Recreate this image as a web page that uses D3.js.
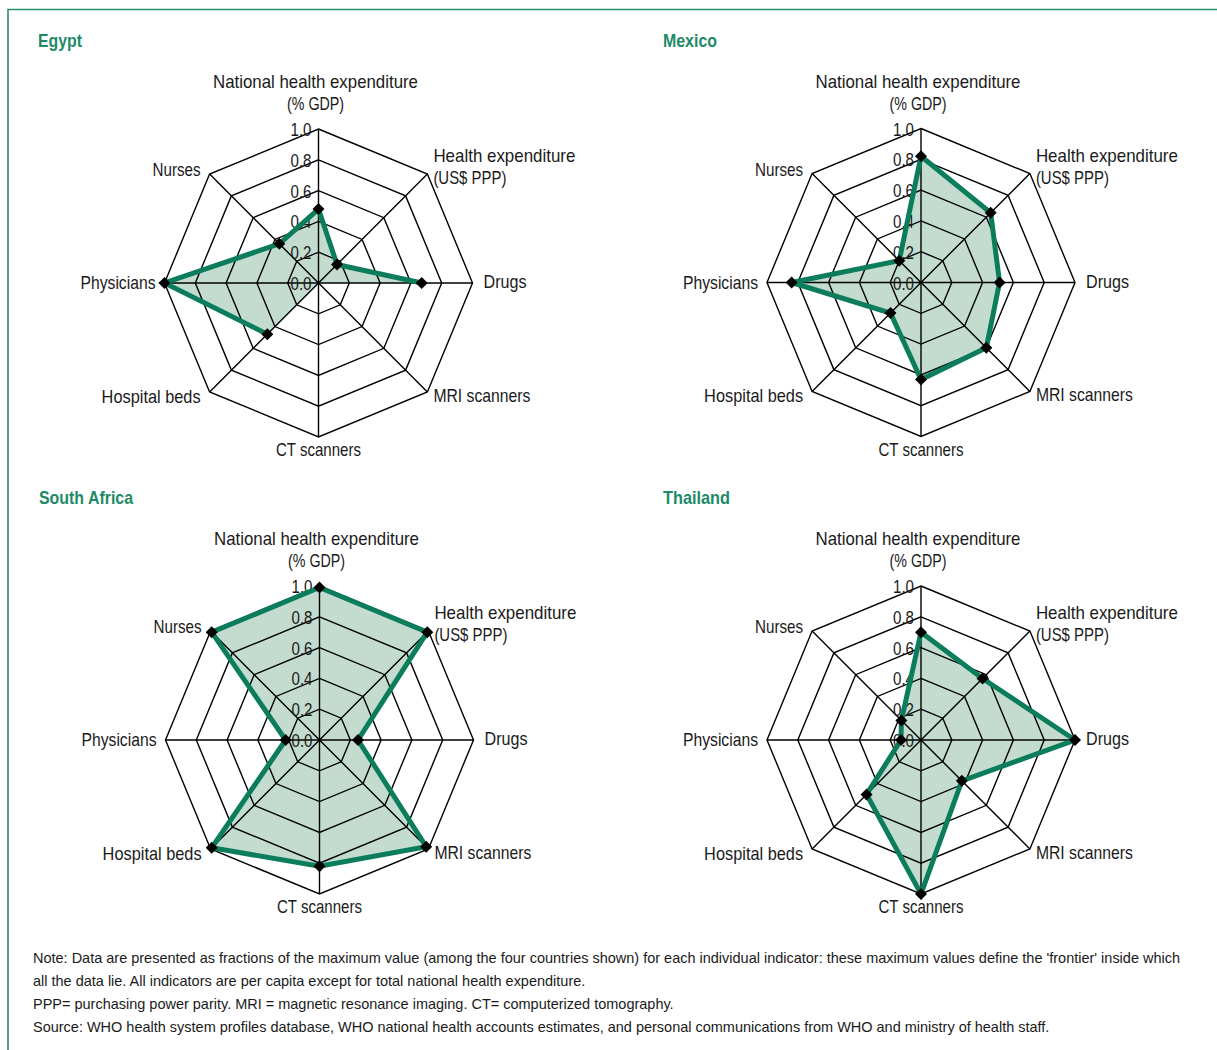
<!DOCTYPE html>
<html><head><meta charset="utf-8">
<script src="https://cdn.jsdelivr.net/npm/d3@7"></script>
<style>
html,body{margin:0;padding:0;background:#fff;}
svg{display:block;}
text{font-family:"Liberation Sans",Arial,sans-serif;fill:#1a1a1a;}
</style></head>
<body>
<svg id="chart" width="1217" height="1050"></svg>
<script>
// ---- data ----
const axisLabels = [
  ["National health expenditure", "(% GDP)"],
  ["Health expenditure", "(US$ PPP)"],
  ["Drugs"],
  ["MRI scanners"],
  ["CT scanners"],
  ["Hospital beds"],
  ["Physicians"],
  ["Nurses"]
];
const countries = ["Egypt", "Mexico", "South Africa", "Thailand"];
const egypt       = [0.48, 0.17, 0.67, null, null, 0.47, 1.00, 0.36];
const mexico      = [0.82, 0.64, 0.51, 0.60, 0.63, 0.28, 0.84, 0.20];
const southAfrica = [0.99, 0.99, 0.25, 0.98, 0.82, 0.99, 0.22, 0.99];
const thailand    = [0.70, 0.565, 1.00, 0.375, 1.00, 0.50, 0.13, 0.18];
const tickValues  = [0.0, 0.2, 0.4, 0.6, 0.8, 1.0];
const tickLabels  = ["0.0", "0.2", "0.4", "0.6", "0.8", "1.0"];
const noteLines = [
  "Note: Data are presented as fractions of the maximum value (among the four countries shown) for each individual indicator: these maximum values define the 'frontier' inside which",
  "all the data lie.  All indicators are per capita except for total national health expenditure.",
  "PPP= purchasing power parity. MRI = magnetic resonance imaging. CT= computerized tomography.",
  "Source:  WHO health system profiles database, WHO national health accounts estimates,  and personal communications from WHO and ministry of health staff."
];
const seriesList = [egypt, mexico, southAfrica, thailand];

// ---- layout ----
const GREEN = "#0b7d5c";
const FILL = "#c3dccf";
const TITLE = "#1e8a68";
const R = 154;
const panels = [
  {cx: 318.5, cy: 283, tx: 38, ty: 47},
  {cx: 921, cy: 282.5, tx: 663, ty: 47},
  {cx: 319.5, cy: 740, tx: 39, ty: 504},
  {cx: 921, cy: 740, tx: 663, ty: 504}
];
const labelWidth = {
  "National health expenditure": 205, "(% GDP)": 57, "Health expenditure": 142,
  "(US$ PPP)": 73, "Drugs": 43, "MRI scanners": 97, "CT scanners": 85,
  "Hospital beds": 99, "Physicians": 75, "Nurses": 48
};
const titleWidth = [44, 54, 94, 67];
const noteLine1Width = 1147;

const svg = d3.select("#chart");

// frame
svg.append("path").attr("d", "M8,1050 V9.5 H1217")
  .attr("fill", "none").attr("stroke", "#2a8c6c").attr("stroke-width", 1.6);

const n = axisLabels.length;
const angle = d3.scaleLinear().domain([0, n]).range([0, 2 * Math.PI]);
const rScale = d3.scaleLinear().domain([0, 1]).range([0, R]);

function pt(i, v) {
  const a = angle(i);
  return [Math.sin(a) * rScale(v), -Math.cos(a) * rScale(v)];
}

countries.forEach((name, ci) => {
  const P = panels[ci];
  const data = seriesList[ci];
  const g = svg.append("g").attr("transform", `translate(${P.cx},${P.cy})`);

  svg.append("text").attr("x", P.tx).attr("y", P.ty)
    .attr("font-size", 19).attr("font-weight", "bold")
    .attr("textLength", titleWidth[ci]).attr("lengthAdjust", "spacingAndGlyphs")
    .style("fill", TITLE).text(name);

  // fill
  const radial = d3.lineRadial()
    .angle((d, i) => angle(i))
    .radius(d => rScale(d == null ? 0 : d))
    .curve(d3.curveLinearClosed);
  g.append("path").attr("d", radial(data)).attr("fill", FILL).attr("stroke", "none");

  // grid rings
  tickValues.filter(t => t > 0).forEach(t => {
    const ring = d3.range(n).map(() => t);
    g.append("path").attr("d", radial(ring))
      .attr("fill", "none").attr("stroke", "#000").attr("stroke-width", 1.4);
  });
  // spokes
  d3.range(n).forEach(i => {
    const [x, y] = pt(i, 1);
    g.append("line").attr("x1", 0).attr("y1", 0).attr("x2", x).attr("y2", y)
      .attr("stroke", "#000").attr("stroke-width", 1.4);
  });

  // tick labels
  tickValues.forEach((t, k) => {
    g.append("text").attr("x", -7).attr("y", -rScale(t) + 2)
      .attr("text-anchor", "end").attr("dominant-baseline", "middle")
      .attr("font-size", 19).attr("textLength", 21).attr("lengthAdjust", "spacingAndGlyphs")
      .text(tickLabels[k]);
  });

  // series line (gaps where value missing)
  const closed = data.concat([data[0]]);
  const line = d3.lineRadial()
    .defined(d => d != null)
    .angle((d, i) => angle(i))
    .radius(d => rScale(d))
    .curve(d3.curveLinear);
  g.append("path").attr("d", line(closed))
    .attr("fill", "none").attr("stroke", GREEN).attr("stroke-width", 5)
    .attr("stroke-linejoin", "miter");

  // markers
  data.forEach((v, i) => {
    if (v == null) return;
    const [x, y] = pt(i, v);
    g.append("path").attr("d", "M0,-6 L6,0 L0,6 L-6,0 Z")
      .attr("transform", `translate(${x},${y})`).attr("fill", "#000");
  });

  // axis labels
  axisLabels.forEach((lines, i) => {
    const [vx, vy] = pt(i, 1);
    let anchor, dx, dy;
    switch (i) {
      case 0: anchor = "middle"; dx = -3; dy = -46; break;
      case 1: anchor = "start"; dx = 6; dy = -17; break;
      case 2: anchor = "start"; dx = 11; dy = 0; break;
      case 3: anchor = "start"; dx = 6; dy = 5; break;
      case 4: anchor = "middle"; dx = 0; dy = 14; break;
      case 5: anchor = "end"; dx = -9; dy = 6; break;
      case 6: anchor = "end"; dx = -9; dy = 1; break;
      case 7: anchor = "end"; dx = -9; dy = -3; break;
    }
    lines.forEach((s, j) => {
      g.append("text").attr("x", vx + dx).attr("y", vy + dy + j * 22)
        .attr("text-anchor", anchor).attr("dominant-baseline", "middle")
        .attr("font-size", 19)
        .attr("textLength", labelWidth[s]).attr("lengthAdjust", "spacingAndGlyphs")
        .text(s);
    });
  });
});

// note: uniform horizontal compression matched to first line width
const notes = noteLines.map((s, i) =>
  svg.append("text").attr("x", 33).attr("y", 963 + i * 23)
    .attr("font-size", 14.5).text(s));
const k = noteLine1Width / notes[0].node().getComputedTextLength();
notes.forEach(t => {
  const w = t.node().getComputedTextLength();
  t.attr("textLength", w * k).attr("lengthAdjust", "spacingAndGlyphs");
});
</script>
</body></html>
